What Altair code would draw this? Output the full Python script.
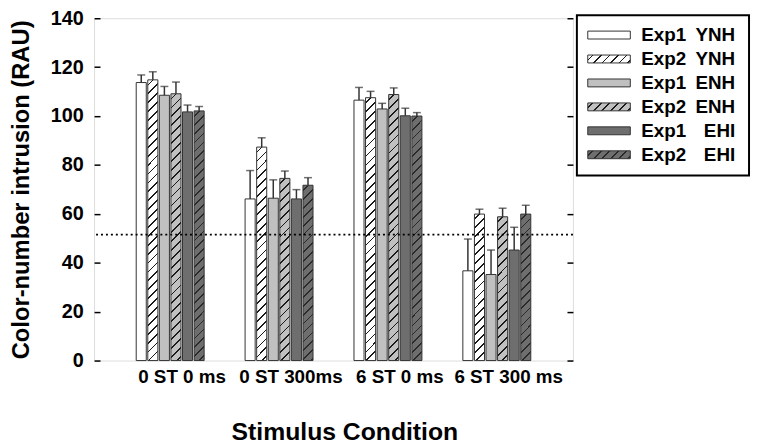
import math
import altair as alt

# ---------------- data ----------------
conditions = ["0 ST 0 ms", "0 ST 300ms", "6 ST 0 ms", "6 ST 300 ms"]
exps = ["Exp1", "Exp2", "Exp1", "Exp2", "Exp1", "Exp2"]
groups = ["YNH", "YNH", "ENH", "ENH", "EHI", "EHI"]
series = [f"{e} {g}" for e, g in zip(exps, groups)]

mean_0st_0ms = [113.7, 114.8, 108.5, 109.1, 101.7, 102.1]
mean_0st_300ms = [66.1, 87.3, 66.4, 74.5, 66.1, 71.7]
mean_6st_0ms = [106.5, 107.5, 102.9, 108.8, 100.1, 100.0]
mean_6st_300ms = [36.7, 59.9, 35.2, 58.8, 45.2, 59.9]

err_0st_0ms = [3.1, 3.3, 3.6, 4.8, 2.8, 1.8]
err_0st_300ms = [11.6, 3.8, 7.5, 3.0, 3.8, 3.1]
err_6st_0ms = [5.2, 2.6, 2.3, 2.7, 3.1, 1.4]
err_6st_300ms = [13.0, 2.0, 10.0, 3.5, 9.3, 3.6]

reference_level = [51.5]
y_ticks = [0, 20, 40, 60, 80, 100, 120, 140]

means = [mean_0st_0ms, mean_0st_300ms, mean_6st_0ms, mean_6st_300ms]
errs = [err_0st_0ms, err_0st_300ms, err_6st_0ms, err_6st_300ms]

# ---------------- styling ----------------
FONT = "Liberation Sans"
W, H = 484, 346
PX_PER_UNIT = H / 140.0
BAR_W = 10.2
base_colors = ["#ffffff", "#ffffff", "#c0c0c0", "#c0c0c0", "#6e6e6e", "#6e6e6e"]
line_colors = ["#1a1a1a", "#1a1a1a", "#1a1a1a", "#1a1a1a", "#2a2a2a", "#2a2a2a"]
hatched = [False, True, False, True, False, True]


def hatch(bg, line, w, h, period=9.0, frac=0.2):
    """Diagonal '/' hatch as a hard-stop linear gradient (bbox units)."""
    h = max(h, 1.0)
    k = (w + h) / (w * w + h * h)
    n = (w + h) / period
    stops = [{"offset": 0, "color": bg}]
    j = 0
    while True:
        s = (j + 0.5) / n
        if s >= 1:
            break
        e = min((j + 0.5 + frac) / n, 1.0)
        stops += [{"offset": s, "color": bg}, {"offset": s, "color": line},
                  {"offset": e, "color": line}, {"offset": e, "color": bg}]
        j += 1
    stops.append({"offset": 1, "color": bg})
    return {"gradient": "linear", "x1": 0, "y1": 0, "x2": w * k, "y2": h * k,
            "stops": stops}


rows = []
for ci, cond in enumerate(conditions):
    for si in range(6):
        v = means[ci][si]
        e = errs[ci][si]
        paint = (hatch(base_colors[si], line_colors[si], BAR_W, v * PX_PER_UNIT)
                 if hatched[si] else base_colors[si])
        rows.append({"cond": cond, "series": series[si], "value": v,
                     "upper": v + e, "paint": paint})

legend_rows = []
for si in range(6):
    paint = (hatch(base_colors[si], line_colors[si], 43, 8, period=8.6, frac=0.22)
             if hatched[si] else base_colors[si])
    legend_rows.append({"series": series[si], "exp": exps[si], "grp": groups[si],
                        "paint": paint})

data = alt.Data(values=rows)
ldata = alt.Data(values=legend_rows)

x_scale = alt.Scale(paddingInner=0.376, paddingOuter=0.387)
xo_scale = alt.Scale(paddingInner=0.13, paddingOuter=0)
y_scale = alt.Scale(domain=[0, 140], nice=False, zero=True)

x_axis = alt.Axis(
    title="Stimulus Condition", labelAngle=0, labelFontSize=19, labelFontWeight="bold",
    labelFont=FONT, labelColor="black", labelPadding=7, labelOffset=12, ticks=False,
    domain=False, grid=False, titleFontSize=25, titleFont=FONT, titleFontWeight="bold",
    titleColor="black", titlePadding=34, titleX=253)
x_enc = alt.X("cond:N", sort=conditions, scale=x_scale, axis=x_axis)
xo_enc = alt.XOffset("series:N", sort=series, scale=xo_scale)

bars = alt.Chart(data).mark_bar(stroke="#333333", strokeWidth=1).encode(
    x=x_enc,
    xOffset=xo_enc,
    y=alt.Y("value:Q", scale=y_scale, axis=alt.Axis(
        orient="left", values=y_ticks, title="Color-number intrusion (RAU)",
        labelFontSize=20, labelFontWeight="bold", labelFont=FONT, labelColor="black",
        labelPadding=11, ticks=False, domain=False, grid=False,
        titleFontSize=24, titleFont=FONT, titleFontWeight="bold", titleColor="black",
        titlePadding=17)),
    fill=alt.Fill("paint:N", scale=None),
)

err_lines = alt.Chart(data).mark_rule(color="#333333", strokeWidth=1.5).encode(
    x=x_enc,
    xOffset=xo_enc,
    y=alt.Y("value:Q", scale=y_scale, axis=alt.Axis(
        orient="right", offset=-W, values=y_ticks, labels=False, title=None,
        domain=False, grid=False, ticks=True, tickSize=6, tickWidth=1.5,
        tickColor="black")),
    y2="upper:Q",
)

err_caps = alt.Chart(data).mark_tick(color="#333333", thickness=1.5, size=8).encode(
    x=x_enc,
    xOffset=xo_enc,
    y=alt.Y("upper:Q", scale=y_scale, axis=alt.Axis(
        orient="left", offset=-W, values=y_ticks, labels=False, title=None,
        domain=False, grid=False, ticks=True, tickSize=6, tickWidth=1.5,
        tickColor="black")),
)

ref_line = alt.Chart(alt.Data(values=[{"ref": r} for r in reference_level])).mark_rule(
    color="black", strokeWidth=2, strokeDash=[2, 3]).encode(
    y=alt.Y("ref:Q", scale=y_scale, axis=None))

# ---------------- legend ----------------
leg_scale = alt.Scale(type="band", domain=series, range=[4.9, 150.1],
                      paddingInner=0.67, paddingOuter=0.335)

leg_box = alt.Chart(alt.Data(values=[{"box": 1}])).mark_rect(
    fill="white", stroke="black", strokeWidth=2).encode(
    x=alt.value(488), x2=alt.value(662), y=alt.value(-3), y2=alt.value(159))

leg_swatch = alt.Chart(ldata).mark_rect(stroke="#333333", strokeWidth=1).encode(
    x=alt.value(499), x2=alt.value(542),
    y=alt.Y("series:N", scale=leg_scale, axis=None),
    fill=alt.Fill("paint:N", scale=None))

leg_exp = alt.Chart(ldata).mark_text(
    align="left", baseline="middle", fontSize=19, fontWeight="bold", font=FONT,
    color="black").encode(
    x=alt.value(553), y=alt.Y("series:N", scale=leg_scale, axis=None), text="exp:N")

leg_grp = alt.Chart(ldata).mark_text(
    align="right", baseline="middle", fontSize=19, fontWeight="bold", font=FONT,
    color="black").encode(
    x=alt.value(648), y=alt.Y("series:N", scale=leg_scale, axis=None), text="grp:N")

chart = alt.layer(
    bars, err_lines, err_caps, ref_line, leg_box, leg_swatch, leg_exp, leg_grp
).resolve_scale(y="independent").properties(
    width=W, height=H,
    autosize=alt.AutoSizeParams(type="none"),
    padding={"left": 87, "top": 8, "right": 181, "bottom": 82},
).configure_view(stroke="black", strokeWidth=1.8).configure(
    background="white")

chart.save("out.html", embed_options={"renderer": "svg", "actions": False})
